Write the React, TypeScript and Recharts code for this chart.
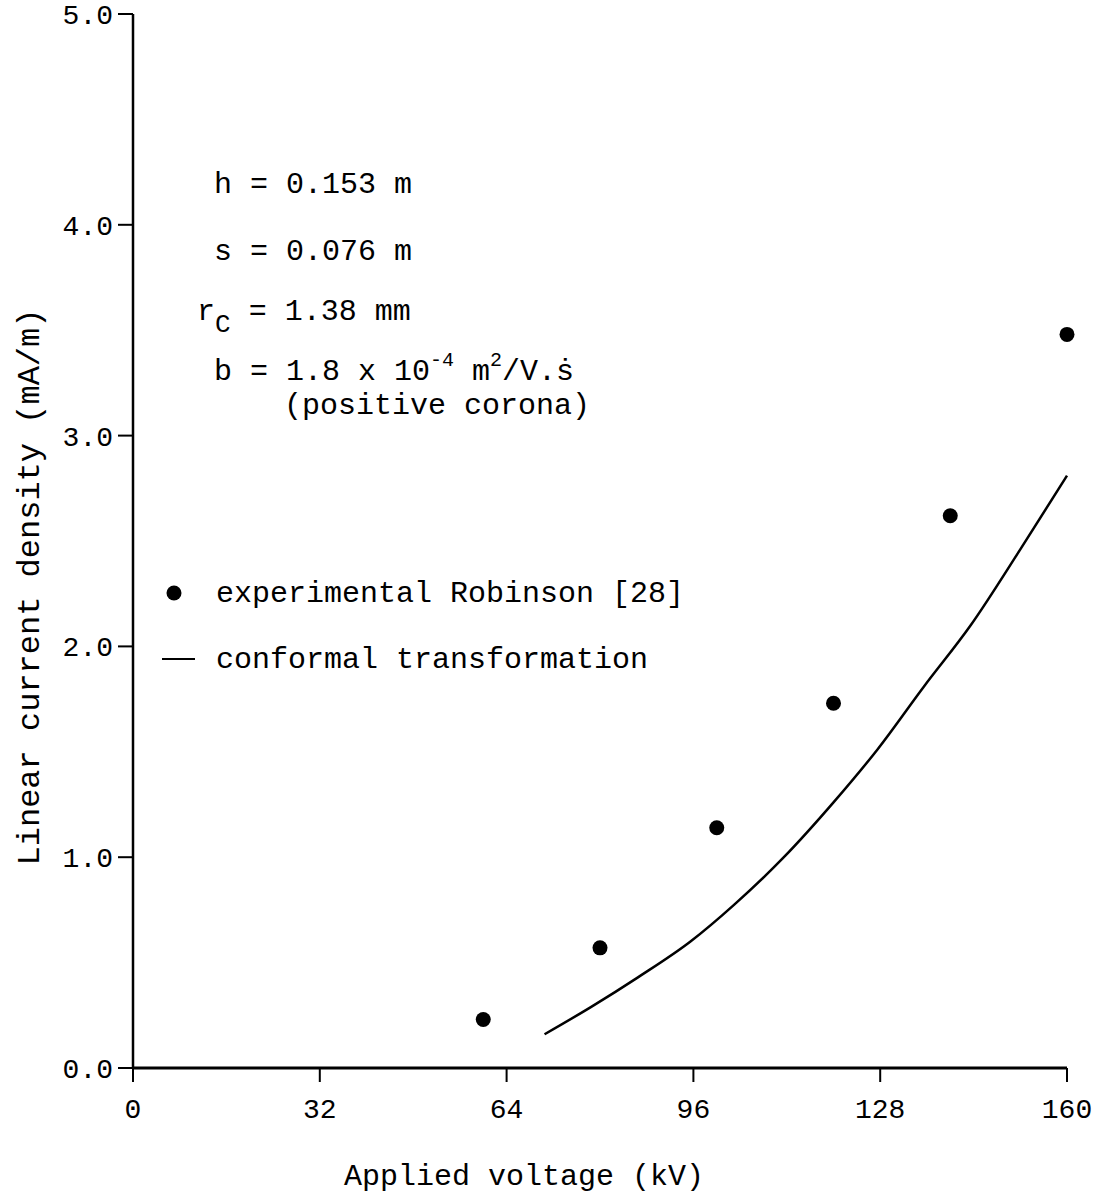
import React from 'react';
import { ComposedChart, Scatter, Line, XAxis, YAxis, Legend } from 'recharts';

// axis ticks
const voltageTicks = [0, 32, 64, 96, 128, 160];
const currentTicks = [0, 1, 2, 3, 4, 5];

// experimental Robinson [28]
const expVoltage = [60, 80, 100, 120, 140, 160];
const expCurrent = [0.23, 0.57, 1.14, 1.73, 2.62, 3.48];

// conformal transformation
const confVoltage = [70.5, 78.5, 86.5, 95.5, 103, 111.5, 120, 127.5, 135.5, 143.5, 152, 160];
const confCurrent = [0.16, 0.29, 0.43, 0.6, 0.775, 1.0, 1.26, 1.51, 1.81, 2.1, 2.46, 2.81];

const FONT = '"Liberation Mono", "DejaVu Sans Mono", monospace';

const experimental = expVoltage.map((v, i) => ({ v, j: expCurrent[i] }));
const conformal = confVoltage.map((v, i) => ({ v, j: confCurrent[i] }));

const DotShape = (p: any) => <circle cx={p.cx} cy={p.cy} r={7.5} fill="#000" />;

function XLabel(props: any) {
    const { viewBox } = props;
    return (
        <text x={viewBox.x + 391} y={viewBox.y + 117} textAnchor="middle" fontFamily={FONT} fontSize={30} fill="#000">
            Applied voltage (kV)
        </text>
    );
}

function YLabel(props: any) {
    const { viewBox } = props;
    const cy = viewBox.y + viewBox.height / 2 + 46;
    return (
        <text x={30} y={cy} transform={`rotate(-90 30 ${cy})`} textAnchor="middle" dominantBaseline="central" fontFamily={FONT} fontSize={32} fill="#000">
            Linear current density (mA/m)
        </text>
    );
}

function LegendBox() {
    return (
        <svg width={540} height={110} style={{ display: 'block', overflow: 'visible' }}>
            <circle cx={24} cy={23} r={7.5} fill="#000" />
            <text x={66} y={32} fontFamily={FONT} fontSize={30} fill="#000">experimental Robinson [28]</text>
            <line x1={12} x2={45} y1={89} y2={89} stroke="#000" strokeWidth={2} />
            <text x={66} y={98} fontFamily={FONT} fontSize={30} fill="#000">conformal transformation</text>
        </svg>
    );
}

export default function App() {
    const txt = { fontFamily: FONT, fontSize: 30, fill: '#000' };
    return (
        <div style={{ position: 'absolute', left: 0, top: 0, width: 1098, height: 1194, background: '#fff' }}>
            <ComposedChart width={1098} height={1194} margin={{ top: 14, right: 31, bottom: 66, left: 63 }}>
                <XAxis
                    type="number"
                    dataKey="v"
                    domain={[0, 160]}
                    ticks={voltageTicks}
                    interval={0}
                    height={60}
                    tickSize={14}
                    tickMargin={16}
                    axisLine={{ stroke: '#000', strokeWidth: 3 }}
                    tickLine={{ stroke: '#000', strokeWidth: 2 }}
                    tick={{ fill: '#000', fontSize: 28, fontFamily: FONT }}
                    label={XLabel}
                />
                <YAxis
                    type="number"
                    dataKey="j"
                    domain={[0, 5]}
                    ticks={currentTicks}
                    interval={0}
                    width={70}
                    tickSize={15}
                    tickMargin={5}
                    tickFormatter={(t: number) => t.toFixed(1)}
                    axisLine={{ stroke: '#000', strokeWidth: 2.5 }}
                    tickLine={{ stroke: '#000', strokeWidth: 2 }}
                    tick={{ fill: '#000', fontSize: 28, fontFamily: FONT }}
                    label={YLabel}
                />
                <Scatter
                    name="experimental Robinson [28]"
                    data={experimental}
                    dataKey="j"
                    fill="#000"
                    shape={DotShape}
                    isAnimationActive={false}
                />
                <Line
                    name="conformal transformation"
                    data={conformal}
                    dataKey="j"
                    type="monotone"
                    stroke="#000"
                    strokeWidth={2.5}
                    dot={false}
                    activeDot={false}
                    isAnimationActive={false}
                />
                <Legend
                    layout="vertical"
                    align="center"
                    verticalAlign="middle"
                    content={LegendBox}
                    wrapperStyle={{ left: 150, top: 570, width: 540, height: 110 }}
                />
            </ComposedChart>
            <svg width={1098} height={1194} style={{ position: 'absolute', left: 0, top: 0, pointerEvents: 'none' }}>
                <text x={214} y={193} {...txt}>h = 0.153 m</text>
                <text x={214} y={260} {...txt}>s = 0.076 m</text>
                <text x={197} y={320} {...txt}>
                    r<tspan fontSize={26} dy={12}>C</tspan>
                    <tspan dy={-12}> = 1.38 mm</tspan>
                </text>
                <text x={214} y={380} {...txt}>
                    b = 1.8 x 10<tspan fontSize={20} dy={-14}>-4</tspan>
                    <tspan dy={14}> m</tspan>
                    <tspan fontSize={20} dy={-14}>2</tspan>
                    <tspan dy={14}>/V.ṡ</tspan>
                </text>
                <text x={284} y={414} {...txt}>(positive corona)</text>
            </svg>
        </div>
    );
}
